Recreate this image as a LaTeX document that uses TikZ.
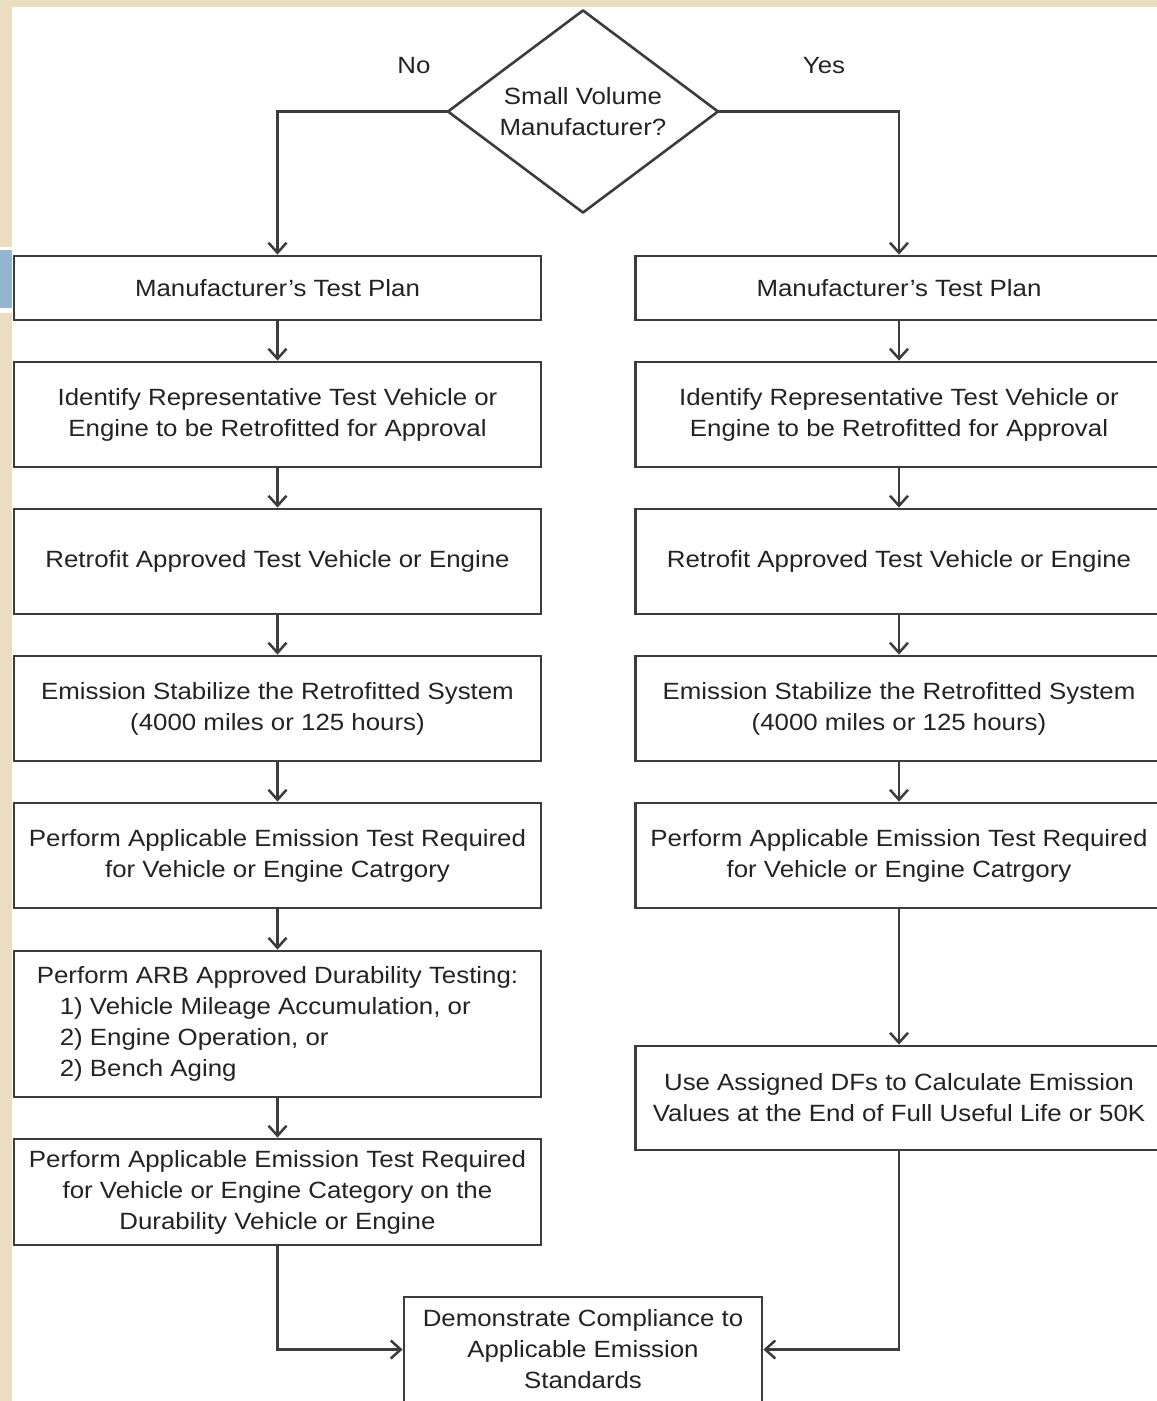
\documentclass[tikz,border=0pt]{standalone}
\usepackage{fontspec}
\setmainfont{Liberation Sans}[FakeStretch=1.1]
\usetikzlibrary{arrows.meta,shapes.geometric}
\definecolor{beige}{RGB}{234,221,194}
\definecolor{bluebar}{RGB}{148,181,208}
\definecolor{ln}{RGB}{60,60,60}
\definecolor{txt}{RGB}{35,35,35}
\begin{document}
\begin{tikzpicture}[x=1pt,y=-1pt,
  every node/.style={text=txt, font=\fontsize{23.5}{31}\selectfont},
  box/.style={draw=ln, line width=2.8pt, minimum width=527pt, inner sep=0pt, align=center},
  arr/.style={draw=ln, line width=2.3pt, -{Straight Barb[length=10pt,width=18pt,line width=2.5pt]}}]
\useasboundingbox (0,0) rectangle (1157,1401);
\clip (0,0) rectangle (1157,1401);
\fill[white] (0,0) rectangle (1157,1401);
\fill[beige] (0,0) rectangle (1157,7);
\fill[beige] (0,0) rectangle (12,247);
\fill[bluebar] (0,250) rectangle (12,308);
\fill[beige] (0,313) rectangle (12,1401);

\node[draw=ln, line width=2.6pt, line join=round, shape=diamond, aspect=1.35, minimum width=270pt, minimum height=202pt, inner sep=0pt, outer sep=0pt, align=center] (dia) at (583,111.5) {Small Volume\\Manufacturer?};
\node (no) at (414,66) {No};
\node (yes) at (824,66) {Yes};

% left column
\node[box, minimum height=64pt] (l1) at (277.5,288) {Manufacturer's Test Plan};
\node[box, minimum height=105pt] (l2) at (277.5,414.5) {Identify Representative Test Vehicle or\\Engine to be Retrofitted for Approval};
\node[box, minimum height=105pt] (l3) at (277.5,561.5) {Retrofit Approved Test Vehicle or Engine};
\node[box, minimum height=105pt] (l4) at (277.5,708.5) {Emission Stabilize the Retrofitted System\\(4000 miles or 125 hours)};
\node[box, minimum height=105pt] (l5) at (277.5,855.5) {Perform Applicable Emission Test Required\\for Vehicle or Engine Catrgory};
\node[box, minimum height=146pt, align=left] (l6) at (277.5,1024) {Perform ARB Approved Durability Testing:\\\hspace*{23pt}1) Vehicle Mileage Accumulation, or\\\hspace*{23pt}2) Engine Operation, or\\\hspace*{23pt}2) Bench Aging};
\node[box, minimum height=106pt] (l7) at (277.5,1192) {Perform Applicable Emission Test Required\\for Vehicle or Engine Category on the\\Durability Vehicle or Engine};

% right column
\node[box, minimum height=64pt] (r1) at (899,288) {Manufacturer's Test Plan};
\node[box, minimum height=105pt] (r2) at (899,414.5) {Identify Representative Test Vehicle or\\Engine to be Retrofitted for Approval};
\node[box, minimum height=105pt] (r3) at (899,561.5) {Retrofit Approved Test Vehicle or Engine};
\node[box, minimum height=105pt] (r4) at (899,708.5) {Emission Stabilize the Retrofitted System\\(4000 miles or 125 hours)};
\node[box, minimum height=105pt] (r5) at (899,855.5) {Perform Applicable Emission Test Required\\for Vehicle or Engine Catrgory};
\node[box, minimum height=104pt] (r6) at (899,1098) {Use Assigned DFs to Calculate Emission\\Values at the End of Full Useful Life or 50K};

% final
\node[box, minimum width=358pt, minimum height=105pt] (fin) at (583,1349.5) {Demonstrate Compliance to\\Applicable Emission\\Standards};

% connectors
\draw[arr] (dia.west) -| (l1.north);
\draw[arr] (dia.east) -| (r1.north);
\draw[arr] (l1) -- (l2);
\draw[arr] (l2) -- (l3);
\draw[arr] (l3) -- (l4);
\draw[arr] (l4) -- (l5);
\draw[arr] (l5) -- (l6);
\draw[arr] (l6) -- (l7);
\draw[arr] (r1) -- (r2);
\draw[arr] (r2) -- (r3);
\draw[arr] (r3) -- (r4);
\draw[arr] (r4) -- (r5);
\draw[arr] (r5) -- (r6);
\draw[arr] (l7.south) |- (fin.west);
\draw[arr] (r6.south) |- (fin.east);
\end{tikzpicture}
\end{document}
